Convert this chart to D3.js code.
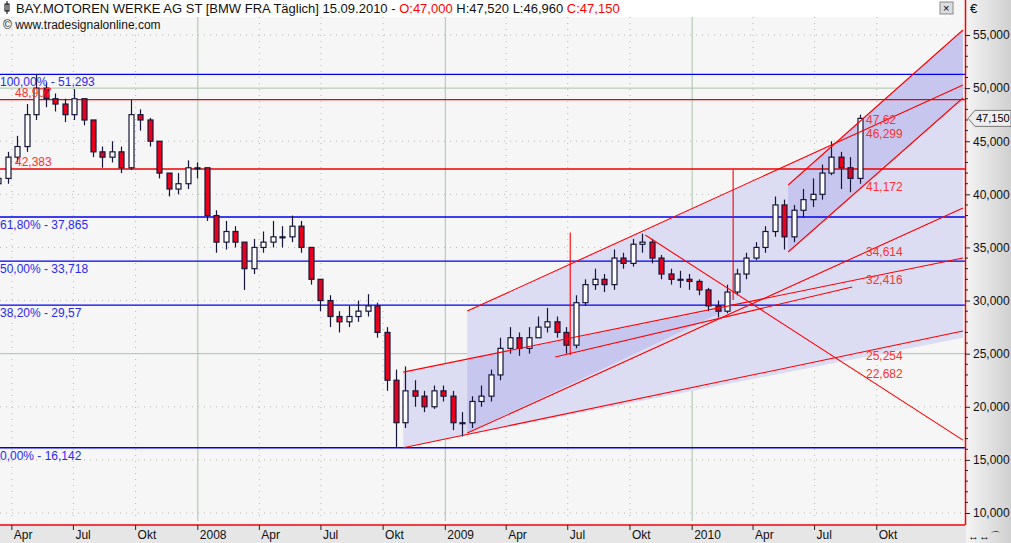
<!DOCTYPE html>
<html><head><meta charset="utf-8">
<script src="https://cdn.jsdelivr.net/npm/d3@7"></script>
<style>body{margin:0;background:#fff;font-family:Arial,"Liberation Sans",sans-serif}</style>
</head><body><svg id="c" width="1011" height="543"></svg>
<script>
// ---- data (prices in thousands of €) ----
const startDate = "2007-03-12"; // candles every 2 weeks
const opens = [41.0,41.5,43.5,44.5,47.5,50.0,49.0,48.5,47.5,49.0,47.0,44.0,43.5,44.0,42.5,47.5,47.0,45.0,42.0,40.5,41.0,42.5,42.5,38.0,35.5,36.5,35.5,33.0,35.0,35.5,36.0,36.0,37.0,35.0,32.0,30.0,28.5,28.0,28.5,29.0,29.5,27.0,22.5,18.5,21.5,21.0,20.0,21.5,21.0,18.5,18.5,20.5,21.0,23.0,25.5,26.5,25.5,26.5,27.5,28.0,27.0,25.8,29.8,31.5,32.0,31.5,34.0,33.5,35.3,35.5,34.0,32.5,32.0,32.0,31.8,31.0,29.5,29.0,30.8,32.5,34.0,35.0,36.5,39.0,36.0,38.5,39.5,40.0,42.0,43.5,42.5,41.5];
const closes = [41.5,43.5,44.5,47.5,50.0,49.0,48.5,47.5,49.0,47.0,44.0,43.5,44.0,42.5,47.5,47.0,45.0,42.0,40.5,41.0,42.5,42.5,38.0,35.5,36.5,35.5,33.0,35.0,35.5,36.0,36.0,37.0,35.0,32.0,30.0,28.5,28.0,28.5,29.0,29.5,27.0,22.5,18.5,21.5,21.0,20.0,21.5,21.0,18.5,18.5,20.5,21.0,23.0,25.5,26.5,25.5,26.5,27.5,28.0,27.0,25.8,29.8,31.5,32.0,31.5,34.0,33.5,35.3,35.5,34.0,32.5,32.0,32.0,31.8,31.0,29.5,29.0,30.8,32.5,34.0,35.0,36.5,39.0,36.0,38.5,39.5,40.0,42.0,43.5,42.5,41.5,47.15];
const highs = [42.5,44.0,45.5,48.5,51.3,50.5,49.5,49.0,49.9,49.0,47.0,44.5,45.0,44.5,48.9,48.0,47.2,45.0,42.0,42.0,43.2,43.0,42.5,38.5,37.5,37.0,35.5,35.8,36.5,37.5,37.0,38.0,37.5,35.0,32.0,30.5,29.0,29.5,30.0,30.6,29.8,27.5,23.5,23.8,22.5,21.5,22.0,22.0,21.5,19.5,21.0,22.0,23.5,26.5,27.5,27.0,27.5,28.5,29.3,28.5,27.5,30.5,32.0,33.0,32.5,34.8,34.5,35.8,36.3,35.8,34.3,33.0,32.8,32.5,32.0,31.2,30.0,31.5,33.0,34.5,35.5,37.0,39.8,39.5,39.0,40.5,41.5,42.8,45.0,44.0,43.5,47.5];
const lows = [40.5,41.0,43.0,44.0,47.0,48.2,47.8,46.8,47.0,46.5,43.5,42.5,43.0,42.0,42.3,46.0,44.5,41.5,39.8,40.0,40.5,41.5,37.5,34.5,34.8,35.0,31.0,32.5,34.5,35.0,35.0,35.5,34.5,31.5,29.0,27.5,27.0,27.5,28.0,28.5,26.5,21.5,16.14,18.0,20.0,19.5,19.8,20.5,17.8,17.2,18.0,20.0,20.5,22.5,25.0,24.8,25.0,26.5,27.0,26.5,25.0,25.5,29.5,31.0,30.8,31.0,33.0,33.2,34.5,33.5,32.0,31.5,31.2,31.0,30.5,29.0,28.4,28.8,30.5,32.0,33.8,34.5,36.0,34.8,35.5,37.8,38.8,39.5,41.8,40.5,40.2,41.0];
const yTicks = [10000,15000,20000,25000,30000,35000,40000,45000,50000,55000];
const monthNames = {0:null,3:"Apr",6:"Jul",9:"Okt"};
// horizontal levels: [value, color, label]
const levels = [[51293,"#0000ee","100,00% - 51,293"],[48907,"#ee0000","48,907"],[42383,"#ee0000","42,383"],[37865,"#0000ee","61,80% - 37,865"],[33718,"#0000ee","50,00% - 33,718"],[29570,"#0000ee","38,20% - 29,57"],[16142,"#0000ee","0,00% - 16,142"]];
// trend lines: [[year, price],[year, price]]
const trendLines = [
 [[2008.830,16142],[2011.097,27130]],
 [[2008.830,23260],[2011.097,34000]],
 [[2009.089,17520],[2011.097,38710]],
 [[2009.089,29010],[2011.097,50290]],
 [[2009.810,36170],[2011.097,16860]],
 [[2009.445,24680],[2010.648,31270]],
 [[2009.506,36400],[2009.506,24870]],
 [[2010.166,42290],[2010.166,30050]],
 [[2010.389,40880],[2011.097,55470]],
 [[2010.389,34570],[2011.097,49070]]
];
const lightArea = [[2008.830,23260],[2009.089,24490],[2009.089,29010],[2011.097,50290],[2011.097,26500],[2008.830,16142]];
const darkAreas = [
 [[2009.089,24490],[2010.174,29480],[2009.089,17520]],
 [[2010.389,40880],[2011.097,55470],[2011.097,49070],[2010.389,34570]]
];
// [text, price, pixel nudge]
const rightLabels = [["47,62",47620,7],["46,299",46299,7],["41,172",41172,5],["34,614",34614,0],["32,416",32416,5],["25,254",25254,5],["22,682",22682,-4]];
const lastPrice = 47150;

// ---- scales ----
const svg = d3.select("#c");
const PR = 965, PB = 521;
const x = d3.scaleTime().domain([new Date(2007,0,1), new Date(2011,0,1)]).range([-49, 939]);
const y = d3.scaleLinear().domain([10000,55000]).range([513,35]);
const fy = v => { const yr=Math.floor(v); const s=new Date(yr,0,1), e=new Date(yr+1,0,1); return new Date(+s + (v-yr)*(e-s)); };
const P = p => [x(fy(p[0])), y(p[1])];

svg.append("rect").attr("width",1011).attr("height",543).attr("fill","#f6f6f6");
svg.append("defs").append("clipPath").attr("id","clip").append("rect").attr("x",0).attr("y",17).attr("width",PR).attr("height",PB-17);
const g = svg.append("g").attr("clip-path","url(#clip)");

// grid
const months = d3.timeMonth.every(3).range(new Date(2007,3,1), new Date(2011,0,1));
months.forEach(m => {
  const xx = x(m), yr = m.getMonth()===0;
  g.append("line").attr("x1",xx).attr("x2",xx).attr("y1",17).attr("y2",PB)
   .attr("stroke", yr ? "#a9c4a9" : "#b8b8b8").attr("stroke-width",1)
   .attr("stroke-dasharray", yr ? null : "1,5");
});
yTicks.forEach(v => {
  const special = v===25000 || v===50000;
  g.append("line").attr("x1",0).attr("x2",PR).attr("y1",y(v)).attr("y2",y(v))
   .attr("stroke", special ? "#a9c4a9" : "#b8b8b8").attr("stroke-dasharray", special?null:"1,5");
});

// shaded channels
const lineGen = d3.line();
g.append("path").attr("d", lineGen(lightArea.map(P))+"Z").attr("fill","#dcdcf3");
darkAreas.forEach(a => g.append("path").attr("d", lineGen(a.map(P))+"Z").attr("fill","#c6c6ef"));

// levels
levels.forEach(l => {
  g.append("line").attr("x1",0).attr("x2",PR).attr("y1",y(l[0])).attr("y2",y(l[0])).attr("stroke",l[1]).attr("stroke-width",1.3);
});

// candles
const parse = d3.timeParse("%Y-%m-%d");
const d0 = parse(startDate);
const candles = closes.map((c,i) => ({d: d3.timeDay.offset(d0, 14*i), o:opens[i]*1000, h:highs[i]*1000, l:lows[i]*1000, c:c*1000}));
const cg = g.append("g");
candles.forEach(k => {
  const cx = Math.round(x(k.d))+0.5, up = k.c>=k.o;
  cg.append("line").attr("x1",cx).attr("x2",cx).attr("y1",y(k.h)).attr("y2",y(k.l)).attr("stroke","#16163a").attr("stroke-width",1.2);
  const top = y(Math.max(k.o,k.c)), bot = y(Math.min(k.o,k.c));
  cg.append("rect").attr("x",cx-2.5).attr("y",top).attr("width",5).attr("height",Math.max(1,bot-top))
    .attr("fill", up ? "#ffffff" : "#e8001c").attr("stroke","#16163a").attr("stroke-width",1.2);
});

// trend lines
trendLines.forEach(t => {
  const a=P(t[0]), b=P(t[1]);
  g.append("line").attr("x1",a[0]).attr("y1",a[1]).attr("x2",b[0]).attr("y2",b[1]).attr("stroke","#ff0000").attr("stroke-width",1.1);
});

// level labels
levels.forEach(l => {
  const red = l[1]==="#ee0000";
  svg.append("text").attr("x", red?15:0).attr("y", y(l[0]) + (red? -3 : 12)).attr("fill", red?"#ff3030":"#2a2af0")
    .attr("font-size",12).text(l[2]);
});
rightLabels.forEach(r => svg.append("text").attr("x",866).attr("y",y(r[1])+4+r[2]).attr("fill","#ff3030").attr("font-size",12).text(r[0]));

// header
svg.append("rect").attr("x",0).attr("y",0).attr("width",950).attr("height",17).attr("fill","#fff");
const h = svg.append("text").attr("x",16).attr("y",13).attr("font-size",13);
h.append("tspan").attr("fill","#111").text("BAY.MOTOREN WERKE AG ST [BMW FRA  Täglich] 15.09.2010 - ");
h.append("tspan").attr("fill","#f00").text("O:47,000 ");
h.append("tspan").attr("fill","#111").text("H:47,520 L:46,960 ");
h.append("tspan").attr("fill","#f00").text("C:47,150");
svg.append("rect").attr("x",5).attr("y",4).attr("width",4).attr("height",7).attr("fill","none").attr("stroke","#000");
svg.append("line").attr("x1",7).attr("x2",7).attr("y1",1).attr("y2",14).attr("stroke","#000");
svg.append("text").attr("x",3).attr("y",29).attr("font-size",12).attr("fill","#111").text("\u00A9 www.tradesignalonline.com");
svg.append("rect").attr("x",940).attr("y",2).attr("width",13).attr("height",12).attr("fill","#ddd").attr("stroke","#888");
svg.append("text").attr("x",943).attr("y",12).attr("font-size",11).text("×");

// right axis panel
const grad = svg.append("defs").append("linearGradient").attr("id","gr");
grad.append("stop").attr("offset","0").attr("stop-color","#f4f4f4");
grad.append("stop").attr("offset","1").attr("stop-color","#cfcfcf");
svg.append("rect").attr("x",PR+1).attr("y",0).attr("width",1011-PR).attr("height",543).attr("fill","url(#gr)");
svg.append("line").attr("x1",PR+0.5).attr("x2",PR+0.5).attr("y1",0).attr("y2",PB+4).attr("stroke","#ff0000").attr("stroke-width",1.5);
const ya = svg.append("g").attr("transform",`translate(${PR},0)`)
  .call(d3.axisRight(y).tickValues(yTicks).tickSize(5).tickFormat(v => d3.format(",")(v/1000) + ",000"));
ya.select(".domain").remove();
ya.selectAll("text").attr("font-size",12).attr("fill","#111").attr("font-family","Arial,Liberation Sans");
ya.selectAll("line").attr("stroke","#222");
d3.range(10000,56000,1000).filter(v=>v%5000).forEach(v=>svg.append("line").attr("x1",PR).attr("x2",PR+3).attr("y1",y(v)).attr("y2",y(v)).attr("stroke","#222"));
svg.append("text").attr("x",970).attr("y",13).attr("font-size",13).text("€");
// last price tag
const ly = y(lastPrice);
svg.append("path").attr("d",`M${PR+3},${ly} L${PR+10},${ly-8} L1011,${ly-8} L1011,${ly+8} L${PR+10},${ly+8} Z`).attr("fill","#eee").attr("stroke","#777");
svg.append("text").attr("x",PR+11).attr("y",ly+4).attr("font-size",11).text("47,150");

// bottom axis
svg.append("rect").attr("x",0).attr("y",PB+4).attr("width",PR+1).attr("height",543-PB-4).attr("fill","#e6e6e6");
svg.append("line").attr("x1",0).attr("x2",PR).attr("y1",PB+4).attr("y2",PB+4).attr("stroke","#ff0000").attr("stroke-width",1.5);
months.forEach(m => {
  const xx = x(m);
  svg.append("line").attr("x1",xx).attr("x2",xx).attr("y1",PB+4).attr("y2",PB+9).attr("stroke","#222");
  const lab = m.getMonth()===0 ? String(m.getFullYear()) : monthNames[m.getMonth()];
  svg.append("text").attr("x",xx+2).attr("y",539).attr("font-size",12).attr("fill","#111").text(lab);
});
svg.append("text").attr("x",968).attr("y",540).attr("font-size",11).text("↔↔⌒");
</script></body></html>
